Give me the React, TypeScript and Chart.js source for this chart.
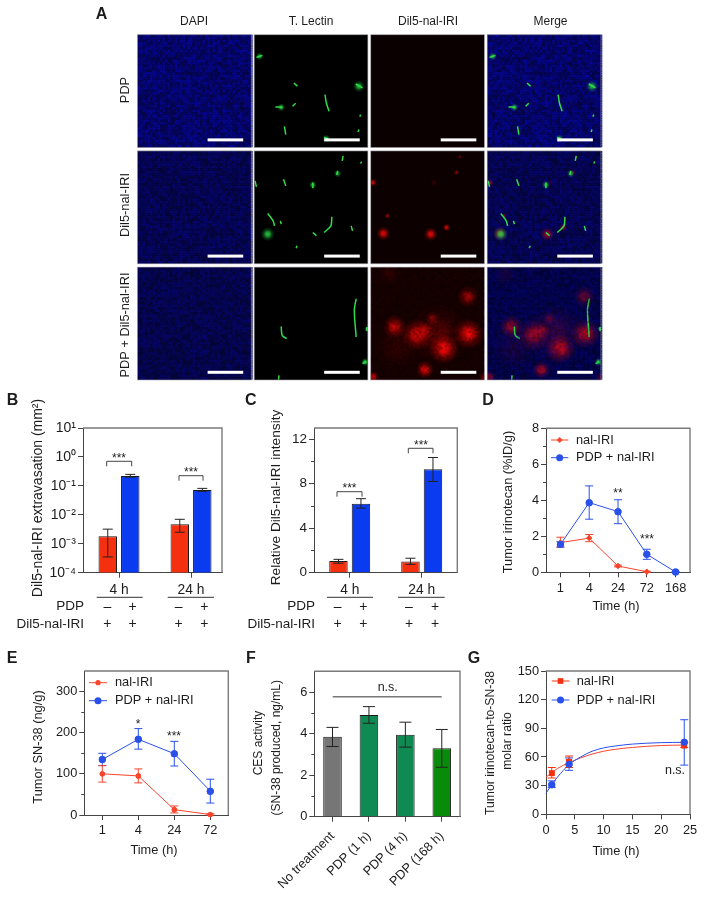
import React, { useEffect, useRef } from "react";
import { Chart, registerables } from "chart.js";
import { drawPoint } from "chart.js/helpers";

Chart.register(...registerables);

const FONT = '"Liberation Sans", Arial, sans-serif';
const RED = "#f5300f";
const BLUE = "#0b3bf0";
const LRED = "#f8452c";
const LBLUE = "#2a50ea";

// ---- Panel B
const groupsBC = ["4 h", "24 h"];
const bRed = [0.0018, 0.0047];
const bRedLow = [0.00035, 0.0025];
const bRedHigh = [0.0032, 0.007];
const bBlue = [0.22, 0.072];
const bBlueLow = [0.2, 0.065];
const bBlueHigh = [0.25, 0.082];
const bTicks = [1e-4, 1e-3, 1e-2, 1e-1, 1, 10];
const bTickLabels = ["10⁻⁴", "10⁻³", "10⁻²", "10⁻¹", "10⁰", "10¹"];

// ---- Panel C
const cRed = [1.05, 1.0];
const cRedLow = [0.85, 0.75];
const cRedHigh = [1.2, 1.3];
const cBlue = [6.2, 9.3];
const cBlueLow = [5.8, 8.2];
const cBlueHigh = [6.65, 10.35];
const cTicks = [0, 4, 8, 12];

// ---- Panel D
const dHours = ["1", "4", "24", "72", "168"];
const dNal = [1.65, 1.9, 0.35, 0.03, null];
const dNalLow = [1.4, 1.7, 0.3, 0, null];
const dNalHigh = [1.95, 2.1, 0.4, 0.06, null];
const dPdp = [1.55, 3.87, 3.37, 1.0, 0.02];
const dPdpLow = [1.4, 2.95, 2.7, 0.72, 0];
const dPdpHigh = [1.7, 4.8, 4.03, 1.28, 0.04];
const dTicks = [0, 2, 4, 6, 8];

// ---- Panel E
const eHours = ["1", "4", "24", "72"];
const eNal = [100, 95, 13, 1];
const eNalLow = [80, 78, 5, 0];
const eNalHigh = [120, 112, 22, 3];
const ePdp = [135, 184, 149, 58];
const ePdpLow = [120, 160, 119, 29];
const ePdpHigh = [150, 210, 179, 87];
const eTicks = [0, 100, 200, 300];

// ---- Panel F
const fGroups = ["No treatment", "PDP (1 h)", "PDP (4 h)", "PDP (168 h)"];
const fValues = [3.85, 4.9, 3.95, 3.3];
const fLow = [3.38, 4.5, 3.35, 2.38];
const fHigh = [4.3, 5.3, 4.55, 4.2];
const fColors = ["#767676", "#0f8a52", "#0f8a52", "#0a8a0a"];
const fTicks = [0, 2, 4, 6];

// ---- Panel G
const gHours = [1, 4, 24];
const gNal = [43, 55, 72];
const gNalLow = [38, 49, 70];
const gNalHigh = [49, 61, 75];
const gPdp = [31, 52.5, 75.5];
const gPdpLow = [28, 46, 51.5];
const gPdpHigh = [35, 59, 99];
const gCurveHours = [0, 1, 2, 4, 6, 8, 10, 12, 15, 20, 24];
const gNalCurve = [39, 43.5, 48, 54, 59, 63, 66, 68, 70, 72, 72.5];
const gPdpCurve = [22, 31, 39, 52, 60, 66, 69.5, 71.5, 73.5, 75, 75.3];

// ---- Panel A: features read from each tile, in tile units (252 wide, 339 tall)
const colTitles = ["DAPI", "T. Lectin", "Dil5-nal-IRI", "Merge"];
const rowTitles = ["PDP", "Dil5-nal-IRI", "PDP + Dil5-nal-IRI"];
const tileGreenLines = [
  [[5, 68, 18, 62], [88, 145, 96, 155], [157, 180, 160, 205, 166, 230], [47, 217, 62, 218], [85, 215, 92, 206], [67, 275, 70, 300], [155, 308, 165, 315], [225, 148, 240, 160], [236, 240, 234, 246], [232, 285, 230, 292]],
  [[2, 90, 5, 108], [65, 85, 70, 105], [130, 95, 130, 112], [185, 60, 183, 72], [197, 15, 195, 30], [30, 188, 42, 210, 45, 225], [58, 210, 60, 220], [172, 198, 170, 225, 155, 245], [130, 245, 138, 255], [215, 225, 218, 240], [238, 32, 236, 38], [95, 285, 93, 292]],
  [[226, 95, 222, 130, 226, 210], [60, 178, 62, 205, 72, 215], [250, 180, 250, 192], [246, 285, 240, 290], [55, 325, 54, 338]],
];
const tileGreenGlows = [
  [[12, 65, 4, 0.8], [232, 155, 6, 0.8], [60, 218, 4, 0.9], [160, 312, 4, 0.8]],
  [[30, 250, 7, 0.85], [185, 68, 4, 0.7], [130, 102, 4, 0.8]],
  [[246, 285, 4, 1], [250, 186, 3, 0.8]],
];
const tileRedGlows = [
  [],
  [[5, 95, 4, 0.8], [28, 248, 7, 0.85], [133, 250, 7, 0.85], [168, 230, 4, 0.8], [37, 195, 3, 0.6], [190, 65, 3, 0.5], [198, 18, 2.5, 0.35], [140, 95, 4, 0.15]],
  [[53, 179, 12, 0.8], [102, 203, 16, 0.8], [120, 190, 9, 0.6], [162, 245, 15, 1], [217, 200, 15, 1], [215, 89, 11, 0.6], [120, 308, 9, 0.95], [5, 330, 6, 0.9], [137, 155, 7, 0.45], [40, 20, 12, 0.12], [250, 330, 5, 0.4], [150, 200, 30, 0.28], [60, 240, 24, 0.12]],
];
const tileRedBackground = ["#0b0000", "#0c0000", "#180000"];
const tileBlueLevel = [112, 85, 78];

const TILE_W = 252;
const TILE_H = 339;
const COL_STEP = 258.3;
const ROW_STEP = 349;

type Txt = { t: string; x: number; y: number; rot?: number; size?: number; align?: CanvasTextAlign; bold?: boolean };
type Seg = { x0: number; y0: number; x1: number; y1: number; color?: string; w?: number };
type Leg = { x0: number; x1: number; y: number; tx: number; label: string; color: string; style: string; r: number };

function panelPlugin(spec: { texts?: Txt[]; segs?: Seg[]; minor?: number[]; legend?: Leg[]; box?: boolean }) {
  return {
    id: "panelDecor",
    afterDatasetsDraw(chart: any) {
      const ctx = chart.ctx;
      ctx.save();
      // error bars from each dataset's low/high lists
      chart.data.datasets.forEach((ds: any, di: number) => {
        if (!ds.errLow) return;
        const meta = chart.getDatasetMeta(di);
        ctx.strokeStyle = ds.errColor || "#222";
        ctx.lineWidth = 1;
        ds.errLow.forEach((lo: number | null, i: number) => {
          const hi = ds.errHigh[i];
          if (lo == null || hi == null || !meta.data[i]) return;
          const px = meta.data[i].x;
          const a = chart.scales.y.getPixelForValue(lo);
          const b = chart.scales.y.getPixelForValue(hi);
          const cap = ds.errCap || 5;
          ctx.beginPath();
          ctx.moveTo(px, a);
          ctx.lineTo(px, b);
          ctx.moveTo(px - cap, a);
          ctx.lineTo(px + cap, a);
          ctx.moveTo(px - cap, b);
          ctx.lineTo(px + cap, b);
          ctx.stroke();
        });
      });
      // re-draw markers above the error bars
      [...chart.data.datasets].reverse().forEach((ds: any) => {
        const di = chart.data.datasets.indexOf(ds);
        if (!ds.errLow || chart.config.type === "bar") return;
        chart.getDatasetMeta(di).data.forEach((el: any) => el.skip || el.draw(ctx));
      });
      ctx.restore();
    },
    afterDraw(chart: any) {
      const ctx = chart.ctx;
      const { left, right, top, bottom } = chart.chartArea;
      ctx.save();
      if (spec.box !== false) {
        ctx.strokeStyle = "#7a7a7a";
        ctx.lineWidth = 1.4;
        ctx.beginPath();
        ctx.moveTo(left, top);
        ctx.lineTo(right, top);
        ctx.lineTo(right, bottom);
        ctx.stroke();
      }
      (spec.minor || []).forEach((v) => {
        const p = Math.round(chart.scales.y.getPixelForValue(v)) + 0.5;
        ctx.strokeStyle = "#444";
        ctx.lineWidth = 1;
        ctx.beginPath();
        ctx.moveTo(left - 3, p);
        ctx.lineTo(left, p);
        ctx.stroke();
      });
      (spec.segs || []).forEach((s) => {
        ctx.strokeStyle = s.color || "#444";
        ctx.lineWidth = s.w || 1;
        ctx.beginPath();
        ctx.moveTo(s.x0, s.y0);
        ctx.lineTo(s.x1, s.y1);
        ctx.stroke();
      });
      (spec.legend || []).forEach((l) => {
        ctx.strokeStyle = l.color;
        ctx.fillStyle = l.color;
        ctx.lineWidth = 1;
        ctx.beginPath();
        ctx.moveTo(l.x0, l.y);
        ctx.lineTo(l.x1, l.y);
        ctx.stroke();
        drawPoint(ctx, { pointStyle: l.style, radius: l.r, rotation: 0, borderWidth: 0 }, (l.x0 + l.x1) / 2, l.y);
      });
      ctx.fillStyle = "#1c1c1c";
      const all: Txt[] = [...(spec.texts || []), ...(spec.legend || []).map((l) => ({ t: l.label, x: l.tx, y: l.y, align: "left" as CanvasTextAlign, size: 12.8 }))];
      all.forEach((tx) => {
        ctx.save();
        ctx.translate(tx.x, tx.y);
        if (tx.rot) ctx.rotate(tx.rot);
        ctx.font = `${tx.bold ? "bold " : ""}${tx.size || 13}px ${FONT}`;
        ctx.textAlign = tx.align || "center";
        ctx.textBaseline = "middle";
        ctx.fillText(tx.t, 0, 0);
        ctx.restore();
      });
      ctx.restore();
    },
  };
}

const UP = -Math.PI / 2;

function bracket(x0: number, x1: number, y: number): Seg[] {
  return [
    { x0, y0: y, x1, y1: y },
    { x0, y0: y, x1: x0, y1: y + 5 },
    { x0: x1, y0: y, x1, y1: y + 5 },
  ];
}
function stars(t: string, x: number, y: number): Txt {
  return { t, x, y: y + 3, size: 12 };
}
function pmTable(label: number, nalLabel: number, marks: number[], rowPdp: number, rowNal: number, lines: number[][], lineY: number) {
  const texts: Txt[] = [
    { t: "PDP", x: label, y: rowPdp, align: "right", size: 13.5 },
    { t: "Dil5-nal-IRI", x: nalLabel, y: rowNal, align: "right", size: 13.5 },
  ];
  marks.forEach((m, i) => {
    texts.push({ t: i % 2 ? "+" : "–", x: m, y: rowPdp, size: 14 });
    texts.push({ t: "+", x: m, y: rowNal, size: 14 });
  });
  const segs: Seg[] = lines.map((l) => ({ x0: l[0], x1: l[1], y0: lineY, y1: lineY, color: "#333" }));
  return { texts, segs };
}

function yAxis(extra: any, tickSize = 12.8) {
  const list: number[] | undefined = extra.tickList;
  const rest = Object.fromEntries(Object.entries(extra).filter(([k]) => k !== "ticks" && k !== "tickList"));
  return {
    grid: { drawOnChartArea: false, drawTicks: true, tickLength: 5, tickColor: "#444" },
    border: { color: "#444", width: 1 },
    ticks: { color: "#1c1c1c", padding: 2, font: { family: FONT, size: tickSize }, ...(extra.ticks || {}) },
    afterFit: (s: any) => {
      s.width = 40;
    },
    ...(list
      ? {
          afterBuildTicks: (s: any) => {
            s.ticks = list.map((value) => ({ value }));
          },
        }
      : {}),
    ...rest,
  };
}
function xAxis(extra: any, height = 30, tickSize = 12.8) {
  return {
    offset: true,
    grid: { drawOnChartArea: false, offset: false, drawTicks: true, tickLength: 5, tickColor: "#444" },
    border: { color: "#444", width: 1 },
    ticks: { color: "#1c1c1c", padding: 3, autoSkip: false, maxRotation: 0, font: { family: FONT, size: tickSize }, ...(extra.ticks || {}) },
    afterFit: (s: any) => {
      s.height = height;
    },
    ...Object.fromEntries(Object.entries(extra).filter(([k]) => k !== "ticks")),
  };
}
function frame(L: number, T: number, R: number, B: number, xh = 30) {
  return { padding: { left: L - 40, top: T, right: 704 - R, bottom: 899 - B - xh } };
}
const baseOpts = {
  responsive: false,
  animation: false,
  devicePixelRatio: 1,
  plugins: { legend: { display: false }, tooltip: { enabled: false } },
};

function barPair(red: number[], rl: number[], rh: number[], blue: number[], bl: number[], bh: number[]) {
  const common = { borderColor: "#1a1a1a", borderWidth: 1, categoryPercentage: 0.625, barPercentage: 0.82, errCap: 5, errColor: "#222" };
  return [
    { ...common, label: "Control", data: red.map((y, x) => ({ x, y })), backgroundColor: RED, errLow: rl, errHigh: rh },
    { ...common, label: "PDP", data: blue.map((y, x) => ({ x, y })), backgroundColor: BLUE, errLow: bl, errHigh: bh },
  ];
}
function groupAxis(min: number, max: number) {
  return xAxis(
    {
      type: "linear",
      offset: false,
      min,
      max,
      afterBuildTicks: (s: any) => {
        s.ticks = groupsBC.map((_, i) => ({ value: i }));
      },
      ticks: { callback: (v: number) => groupsBC[v], padding: 4, font: { family: FONT, size: 13.8 } },
    },
    30
  );
}
function lineDs(label: string, ys: any[], lo: any[], hi: any[], color: string, style: string, r: number) {
  return {
    label,
    data: ys,
    borderColor: color,
    backgroundColor: color,
    borderWidth: 1,
    pointStyle: style,
    pointRadius: r,
    pointBorderWidth: 0,
    clip: false,
    errLow: lo,
    errHigh: hi,
    errColor: color,
    errCap: 4,
  };
}

function hash(i: number, j: number) {
  const v = Math.sin(i * 12.9898 + j * 78.233) * 43758.5453;
  return v - Math.floor(v);
}

function panelA(canvas: HTMLCanvasElement) {
  const L = 137.6, T = 34.7, R = 601, B = 380;
  const unitX = (R - L) / (3 * COL_STEP + TILE_W);
  const unitY = (B - T) / (2 * ROW_STEP + TILE_H);
  const datasets: any[] = [];
  const glowColor = (rgb: string) => (c: any) => {
    if (!c.raw) return "transparent";
    const x = c.chart.scales.x.getPixelForValue(c.raw.x);
    const y = c.chart.scales.y.getPixelForValue(c.raw.y);
    if (!Number.isFinite(x) || !Number.isFinite(y)) return "transparent";
    const g = c.chart.ctx.createRadialGradient(x, y, 0, x, y, c.raw.r);
    g.addColorStop(0, `rgba(${rgb},${c.raw.a})`);
    g.addColorStop(0.3, `rgba(${rgb},${c.raw.a * 0.8})`);
    g.addColorStop(0.6, `rgba(${rgb},${c.raw.a * 0.3})`);
    g.addColorStop(1, `rgba(${rgb},0)`);
    return g;
  };
  const clipFor = (r: number, c: number) => {
    const x0 = (c * COL_STEP) * unitX, x1 = (c * COL_STEP + TILE_W) * unitX;
    const y0 = (r * ROW_STEP) * unitY, y1 = (r * ROW_STEP + TILE_H) * unitY;
    return { left: -x0, top: -y0, right: -((R - L) - x1), bottom: -((B - T) - y1) };
  };
  const place = (r: number, c: number, x: number, y: number) => ({ x: c * COL_STEP + x, y: r * ROW_STEP + y });
  [0, 1, 2].forEach((r) => {
    [1, 3].forEach((c) => {
      tileGreenLines[r].forEach((ln) => {
        const data = [];
        for (let i = 0; i < ln.length; i += 2) data.push(place(r, c, ln[i], ln[i + 1]));
        datasets.push({ type: "line", data, borderColor: "#2fdc4a", borderWidth: 1.5, pointRadius: 0, tension: 0.3, clip: clipFor(r, c) });
      });
    });
  });
  [0, 1, 2].forEach((r) => {
    [1, 3].forEach((c) => {
      datasets.push({
        type: "bubble",
        data: tileGreenGlows[r].map((g) => ({ ...place(r, c, g[0], g[1]), r: g[2], a: g[3] })),
        backgroundColor: glowColor("40,225,70"),
        borderWidth: 0,
        clip: clipFor(r, c),
      });
    });
  });
  [0, 1, 2].forEach((r) => {
    [2, 3].forEach((c) => {
      datasets.push({
        type: "bubble",
        data: tileRedGlows[r].map((g) => ({ ...place(r, c, g[0], g[1]), r: g[2], a: g[3] * (c === 3 ? 0.72 : 1) })),
        backgroundColor: glowColor("255,8,8"),
        borderWidth: 0,
        clip: clipFor(r, c),
      });
    });
  });
  const tileRect = (r: number, c: number) => ({
    x: L + c * COL_STEP * unitX,
    y: T + r * ROW_STEP * unitY,
    w: TILE_W * unitX,
    h: TILE_H * unitY,
  });
  const tilePlugin = {
    id: "tiles",
    beforeDatasetsDraw(chart: any) {
      const ctx = chart.ctx;
      [0, 1, 2].forEach((r) => {
        [0, 1, 2, 3].forEach((c) => {
          const t = tileRect(r, c);
          ctx.fillStyle = c === 1 ? "#000" : c === 2 ? tileRedBackground[r] : "#05054a";
          ctx.fillRect(t.x, t.y, t.w, t.h);
          if (c === 0 || c === 3) {
            for (let i = 0; i < t.w - 1; i += 2.5) {
              for (let j = 0; j < t.h - 1; j += 2.5) {
                const h = hash(i + r * 97, j + r * 53);
                ctx.fillStyle = `rgb(5,5,${Math.round(tileBlueLevel[r] * (0.6 + 0.75 * h))})`;
                ctx.fillRect(t.x + i, t.y + j, 2.5, 2.5);
              }
            }
          }
        });
      });
    },
    afterDatasetsDraw(chart: any) {
      const ctx = chart.ctx;
      [2].forEach((r) => {
        [2, 3].forEach((c) => {
          const t = tileRect(r, c);
          for (let i = 0; i < t.w - 1; i += 2) {
            for (let j = 0; j < t.h - 1; j += 2) {
              const h = hash(i + c * 31, j + 7);
              ctx.fillStyle = `rgba(0,0,${c === 3 ? 60 : 0},${0.4 * h * h})`;
              ctx.fillRect(t.x + i, t.y + j, 2, 2);
            }
          }
        });
      });
      [0, 1, 2].forEach((r) => {
        [0, 1, 2, 3].forEach((c) => {
          const t = tileRect(r, c);
          ctx.strokeStyle = "rgba(170,170,180,0.7)";
          ctx.lineWidth = 0.8;
          ctx.strokeRect(t.x, t.y, t.w, t.h);
          ctx.fillStyle = "#fff";
          ctx.fillRect(t.x + 70, t.y + t.h - 9.2, 35.6, 3);
        });
      });
    },
  };
  const colCenters = [194, 311, 428, 550.5];
  const rowCenters = [90, 205, 325];
  const texts: Txt[] = [
    { t: "A", x: 101.5, y: 15, bold: true, size: 16 },
    ...colTitles.map((t, i) => ({ t, x: colCenters[i], y: 22, size: 12 })),
    ...rowTitles.map((t, i) => ({ t, x: 125, y: rowCenters[i], rot: UP, size: 12.8 })),
  ];
  return new Chart(canvas, {
    type: "scatter",
    data: { datasets },
    options: {
      ...baseOpts,
      layout: { padding: { left: L, top: T, right: 704 - R, bottom: 899 - B } },
      scales: {
        x: { type: "linear", display: false, min: 0, max: 3 * COL_STEP + TILE_W },
        y: { type: "linear", display: false, reverse: true, min: 0, max: 2 * ROW_STEP + TILE_H },
      },
    },
    plugins: [tilePlugin, panelPlugin({ texts, box: false })],
  } as any);
}

function panelB(canvas: HTMLCanvasElement) {
  const tbl = pmTable(84, 84, [107.3, 132.7, 178.7, 204.3], 606.7, 624.3, [[96.7, 142.7], [167.7, 214]], 597.3);
  return new Chart(canvas, {
    type: "bar",
    data: { datasets: barPair(bRed, bRedLow, bRedHigh, bBlue, bBlueLow, bBlueHigh) },
    options: {
      ...baseOpts,
      layout: frame(83, 428, 222, 572.7),
      scales: {
        x: groupAxis(-0.5, 1.43),
        y: yAxis({
          type: "logarithmic",
          min: 1e-4,
          max: 10,
          tickList: bTicks,
          ticks: { callback: (v: number) => bTickLabels[bTicks.findIndex((t) => Math.abs(Math.log10(t) - Math.log10(v)) < 1e-6)] },
        }, 14),
      },
    },
    plugins: [
      panelPlugin({
        segs: [...bracket(106.7, 131.7, 461.3), ...bracket(179, 203, 475.7), ...tbl.segs],
        texts: [
          { t: "B", x: 12.5, y: 401, bold: true, size: 16 },
          { t: "Dil5-nal-IRI extravasation (mm²)", x: 37.7, y: 498, rot: UP, size: 14 },
          stars("***", 119, 455.7),
          stars("***", 191, 470),
          ...tbl.texts,
        ],
      }),
    ],
  } as any);
}

function panelC(canvas: HTMLCanvasElement) {
  const tbl = pmTable(315, 315, [337.7, 363.3, 409, 435], 606.7, 624.3, [[327, 373], [398, 444.7]], 597.3);
  return new Chart(canvas, {
    type: "bar",
    data: { datasets: barPair(cRed, cRedLow, cRedHigh, cBlue, cBlueLow, cBlueHigh) },
    options: {
      ...baseOpts,
      layout: frame(314, 428, 457.3, 572.7),
      scales: {
        x: groupAxis(-0.496, 1.494),
        y: yAxis({ min: 0, max: 13, tickList: cTicks }, 13.5),
      },
    },
    plugins: [
      panelPlugin({
        minor: [2, 6, 10],
        segs: [...bracket(337, 362, 491.7), ...bracket(408.3, 433, 448.3), ...tbl.segs],
        texts: [
          { t: "C", x: 250.7, y: 401, bold: true, size: 16 },
          { t: "Relative Dil5-nal-IRI intensity", x: 276.7, y: 497.5, rot: UP, size: 13.7 },
          stars("***", 349.5, 486),
          stars("***", 421, 442.7),
          ...tbl.texts,
        ],
      }),
    ],
  } as any);
}

function panelD(canvas: HTMLCanvasElement) {
  return new Chart(canvas, {
    type: "line",
    data: {
      labels: dHours,
      datasets: [
        lineDs("PDP + nal-IRI", dPdp, dPdpLow, dPdpHigh, LBLUE, "circle", 3.5),
        lineDs("nal-IRI", dNal, dNalLow, dNalHigh, LRED, "rectRot", 3),
      ],
    },
    options: {
      ...baseOpts,
      layout: frame(546, 428.3, 690, 572.3),
      scales: { x: xAxis({}), y: yAxis({ min: 0, max: 8, tickList: dTicks }) },
    },
    plugins: [
      panelPlugin({
        minor: [1, 3, 5, 7],
        legend: [
          { x0: 551, x1: 568.3, y: 440, tx: 576, label: "nal-IRI", color: LRED, style: "rectRot", r: 3 },
          { x0: 551, x1: 568.3, y: 457.7, tx: 576, label: "PDP + nal-IRI", color: LBLUE, style: "circle", r: 3.5 },
        ],
        texts: [
          { t: "D", x: 488, y: 401, bold: true, size: 16 },
          { t: "Tumor irinotecan (%ID/g)", x: 508, y: 502, rot: UP, size: 12.8 },
          { t: "Time (h)", x: 616, y: 606.7, size: 12.8 },
          stars("**", 618, 491),
          stars("***", 647, 536.7),
        ],
      }),
    ],
  } as any);
}

function panelE(canvas: HTMLCanvasElement) {
  return new Chart(canvas, {
    type: "line",
    data: {
      labels: eHours,
      datasets: [
        lineDs("PDP + nal-IRI", ePdp, ePdpLow, ePdpHigh, LBLUE, "circle", 3.5),
        lineDs("nal-IRI", eNal, eNalLow, eNalHigh, LRED, "circle", 2.6),
      ],
    },
    options: {
      ...baseOpts,
      layout: frame(84.3, 671, 228.3, 815),
      scales: { x: xAxis({}), y: yAxis({ min: 0, max: 350, tickList: eTicks }) },
    },
    plugins: [
      panelPlugin({
        minor: [50, 150, 250],
        legend: [
          { x0: 89, x1: 107, y: 682.7, tx: 115, label: "nal-IRI", color: LRED, style: "circle", r: 2.6 },
          { x0: 89, x1: 107, y: 700.7, tx: 115, label: "PDP + nal-IRI", color: LBLUE, style: "circle", r: 3.5 },
        ],
        texts: [
          { t: "E", x: 12, y: 659, bold: true, size: 16 },
          { t: "Tumor SN-38 (ng/g)", x: 38.5, y: 747, rot: UP, size: 12.8 },
          { t: "Time (h)", x: 154, y: 850, size: 12.8 },
          stars("*", 138, 721.7),
          stars("***", 174, 734),
        ],
      }),
    ],
  } as any);
}

function panelF(canvas: HTMLCanvasElement) {
  return new Chart(canvas, {
    type: "bar",
    data: {
      labels: fGroups,
      datasets: [
        {
          label: "CES activity",
          data: fValues,
          backgroundColor: fColors,
          borderColor: "#1a1a1a",
          borderWidth: 1,
          categoryPercentage: 1,
          barPercentage: 0.51,
          errLow: fLow,
          errHigh: fHigh,
          errColor: "#222",
          errCap: 6,
        },
      ],
    },
    options: {
      ...baseOpts,
      layout: frame(314.3, 671.3, 460, 816.7, 80),
      scales: {
        x: xAxis({ ticks: { minRotation: 45, maxRotation: 45, padding: 7 } }, 80, 12.8),
        y: yAxis({ min: 0, max: 7, tickList: fTicks }),
      },
    },
    plugins: [
      panelPlugin({
        minor: [1, 3, 5],
        segs: [{ x0: 332.7, x1: 441.7, y0: 696.7, y1: 696.7, color: "#777", w: 1.5 }],
        texts: [
          { t: "F", x: 251, y: 659, bold: true, size: 16 },
          { t: "n.s.", x: 387.7, y: 687.7, size: 12.5 },
          { t: "CES activity", x: 259, y: 743, rot: UP, size: 12 },
          { t: "(SN-38 produced, ng/mL)", x: 276.7, y: 747.7, rot: UP, size: 12 },
        ],
      }),
    ],
  } as any);
}

function panelG(canvas: HTMLCanvasElement) {
  const curve = (ys: number[], color: string) => ({
    type: "line",
    data: ys.map((y, i) => ({ x: gCurveHours[i], y })),
    borderColor: color,
    borderWidth: 1,
    pointRadius: 0,
    cubicInterpolationMode: "monotone",
    clip: false,
  });
  const pts = (ys: number[], lo: number[], hi: number[], color: string, style: string, r: number) => ({
    ...lineDs("", ys.map((y, i) => ({ x: gHours[i], y })), lo, hi, color, style, r),
    showLine: false,
  });
  return new Chart(canvas, {
    type: "scatter",
    data: {
      datasets: [
        pts(gPdp, gPdpLow, gPdpHigh, LBLUE, "circle", 3.5),
        pts(gNal, gNalLow, gNalHigh, "#f5300f", "rect", 4),
        curve(gPdpCurve, LBLUE),
        curve(gNalCurve, LRED),
      ],
    },
    options: {
      ...baseOpts,
      layout: frame(546, 671, 690, 814.3),
      scales: {
        x: xAxis({ type: "linear", offset: false, min: 0, max: 25, ticks: { stepSize: 5 } }),
        y: yAxis({ min: 0, max: 150, ticks: { stepSize: 30 } }),
      },
    },
    plugins: [
      panelPlugin({
        legend: [
          { x0: 551.7, x1: 569.3, y: 681, tx: 576.7, label: "nal-IRI", color: "#f5300f", style: "rect", r: 4 },
          { x0: 551.7, x1: 569.3, y: 700, tx: 576.7, label: "PDP + nal-IRI", color: LBLUE, style: "circle", r: 3.5 },
        ],
        texts: [
          { t: "G", x: 474, y: 659, bold: true, size: 16 },
          { t: "Tumor irinotecan-to-SN-38", x: 490.7, y: 743, rot: UP, size: 12.2 },
          { t: "molar ratio", x: 507.7, y: 741, rot: UP, size: 12.2 },
          { t: "Time (h)", x: 616, y: 851.7, size: 12.8 },
          { t: "n.s.", x: 675, y: 771, size: 12.5 },
        ],
      }),
    ],
  } as any);
}

const panels = [panelA, panelB, panelC, panelD, panelE, panelF, panelG];

export default function App() {
  const refs = useRef<(HTMLCanvasElement | null)[]>([]);
  useEffect(() => {
    const charts = panels.map((make, i) => make(refs.current[i] as HTMLCanvasElement));
    return () => charts.forEach((c) => c.destroy());
  }, []);
  return (
    <div style={{ position: "absolute", left: 0, top: 0, width: 704, height: 899, background: "#fff", overflow: "hidden" }}>
      {panels.map((_, i) => (
        <canvas
          key={i}
          ref={(el) => {
            refs.current[i] = el;
          }}
          width={704}
          height={899}
          style={{ position: "absolute", left: 0, top: 0, width: 704, height: 899 }}
        />
      ))}
    </div>
  );
}
